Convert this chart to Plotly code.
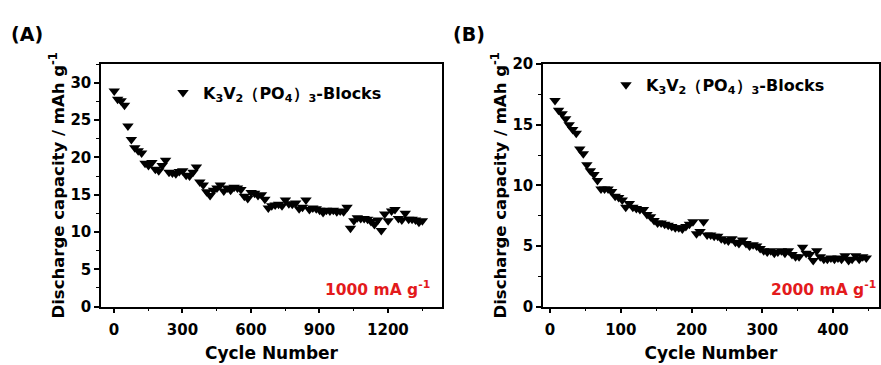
import plotly.graph_objects as go

# ---------------- data ----------------
cycles_a = [1, 16, 31, 46, 61, 76, 91, 106, 121, 136, 151, 166, 181, 196, 211, 226, 241, 256, 271, 286,
            301, 316, 331, 346, 361, 376, 391, 406, 421, 436, 451, 466, 481, 496, 511, 526, 541, 556, 571, 586,
            601, 616, 631, 646, 661, 676, 691, 706, 721, 736, 751, 766, 781, 796, 811, 826, 841, 856, 871, 886,
            901, 916, 931, 946, 961, 976, 991, 1006, 1021, 1036, 1051, 1066, 1081, 1096, 1111, 1126, 1141, 1156,
            1171, 1186, 1201, 1216, 1231, 1246, 1261, 1276, 1291, 1306, 1321, 1336, 1351]
cap_a = [28.9, 27.8, 27.6, 27.0, 24.2, 22.4, 21.3, 20.9, 20.6, 19.2, 18.9, 19.3, 18.4, 18.2, 18.9, 19.6, 18.0,
         17.9, 17.8, 18.1, 18.2, 17.6, 17.5, 18.0, 18.7, 16.7, 16.3, 15.4, 14.9, 15.6, 15.9, 16.3, 15.5, 15.9,
         15.6, 16.0, 15.9, 15.7, 14.8, 14.5, 15.3, 15.2, 14.9, 15.0, 14.4, 13.2, 13.5, 13.6, 13.7, 13.5, 14.3,
         13.8, 13.7, 13.9, 13.1, 13.3, 14.3, 13.0, 13.2, 13.1, 12.9, 12.6, 12.9, 12.8, 12.9, 12.7, 12.8, 12.7,
         13.3, 10.5, 11.5, 11.9, 11.8, 11.8, 11.7, 11.4, 11.0, 11.6, 10.2, 12.4, 11.5, 12.8, 13.0, 11.8, 11.6,
         12.5, 11.7, 11.7, 11.6, 11.3, 11.5]

cycles_b = [7, 12, 17, 22, 27, 32, 37, 42, 47, 52, 57, 62, 67, 72, 77, 82, 87, 92, 97, 102, 107, 112, 117,
            122, 127, 132, 137, 142, 147, 152, 157, 162, 167, 172, 177, 182, 187, 192, 197, 202, 207, 212, 217,
            222, 227, 232, 237, 242, 247, 252, 257, 262, 267, 272, 277, 282, 287, 292, 297, 302, 307, 312, 317,
            322, 327, 332, 337, 342, 347, 352, 357, 362, 367, 372, 377, 382, 387, 392, 397, 402, 407, 412, 417,
            422, 427, 432, 437, 442, 447]
cap_b = [17.0, 16.2, 15.9, 15.5, 15.0, 14.6, 14.3, 13.0, 12.6, 11.7, 11.2, 10.9, 10.4, 9.7, 9.7, 9.7, 9.5,
         9.1, 9.0, 8.8, 8.2, 8.5, 8.2, 8.1, 8.0, 8.0, 7.6, 7.4, 7.1, 6.9, 6.9, 6.8, 6.7, 6.6, 6.5, 6.5, 6.4,
         6.6, 6.8, 7.0, 6.0, 6.2, 7.0, 5.9, 5.9, 5.8, 5.8, 5.6, 5.5, 5.4, 5.6, 5.3, 5.2, 5.5, 5.2, 5.0, 5.1,
         5.0, 4.8, 4.6, 4.5, 4.6, 4.4, 4.5, 4.6, 4.4, 4.6, 4.3, 4.1, 4.1, 4.9, 4.4, 4.3, 3.8, 4.6, 4.1, 3.9,
         3.9, 4.0, 3.9, 4.0, 3.9, 4.2, 3.8, 3.9, 4.2, 3.9, 4.1, 4.0]

series_name = "K<sub>3</sub>V<sub>2</sub>（PO<sub>4</sub>）<sub>3</sub>-Blocks"
panel_labels = ["(A)", "(B)"]
rate_labels = ["1000 mA g<sup>-1</sup>", "2000 mA g<sup>-1</sup>"]
x_ticks_a = [0, 300, 600, 900, 1200]
x_ticks_b = [0, 100, 200, 300, 400]
y_ticks_a = [0, 5, 10, 15, 20, 25, 30]
y_ticks_b = [0, 5, 10, 15, 20]

# ---------------- figure ----------------
W, H = 881, 365
FONT = "DejaVu Sans, Liberation Sans, sans-serif"
RED = "#e31a1c"

fig = go.Figure()
fig.add_trace(go.Scatter(x=cycles_a, y=cap_a, mode="markers", name=series_name,
                         marker=dict(symbol="triangle-down", size=10, color="black"),
                         xaxis="x", yaxis="y", legend="legend"))
fig.add_trace(go.Scatter(x=cycles_b, y=cap_b, mode="markers", name=series_name,
                         marker=dict(symbol="triangle-down", size=10, color="black"),
                         xaxis="x2", yaxis="y2", legend="legend2"))

def px_x(p):
    return p / W

def px_y(p):
    return 1 - p / H

ydom = [px_y(313), px_y(58)]

axis_common = dict(showline=True, linecolor="black", linewidth=1.5, mirror=True,
                   ticks="outside", ticklen=5, tickwidth=1.5, tickcolor="black",
                   showgrid=False, zeroline=False,
                   tickfont=dict(family=FONT, size=15, color="black", weight="bold"))

xtitle_font = dict(family=FONT, size=17, weight="bold", color="black")
ytitle_font = dict(family=FONT, size=16.5, weight="bold", color="black")

fig.update_layout(
    width=W, height=H, margin=dict(l=0, r=0, t=0, b=0),
    paper_bgcolor="white", plot_bgcolor="white",
    font=dict(family=FONT, color="black"),
    xaxis=dict(domain=[px_x(101), px_x(442)], range=[-57, 1437], anchor="y",
               tickvals=x_ticks_a, ticklabelstandoff=4,
               minor=dict(ticks="outside", ticklen=3, tickwidth=1.2, dtick=150, tick0=0, tickcolor="black"),
               title=dict(text="Cycle Number", standoff=9, font=xtitle_font),
               **axis_common),
    yaxis=dict(domain=ydom, range=[0, 32.5], anchor="x", tickvals=y_ticks_a,
               minor=dict(ticks="outside", ticklen=3, tickwidth=1.2, dtick=2.5, tick0=0, tickcolor="black"),
               title=dict(text="Discharge capacity / mAh g<sup>-1</sup>", standoff=2, font=ytitle_font),
               **axis_common),
    xaxis2=dict(domain=[px_x(543), px_x(879)], range=[-10, 465], anchor="y2",
                tickvals=x_ticks_b, ticklabelstandoff=4,
                minor=dict(ticks="outside", ticklen=3, tickwidth=1.2, dtick=50, tick0=0, tickcolor="black"),
                title=dict(text="Cycle Number", standoff=9, font=xtitle_font),
                **axis_common),
    yaxis2=dict(domain=ydom, range=[0, 20], anchor="x2", tickvals=y_ticks_b,
                minor=dict(ticks="outside", ticklen=3, tickwidth=1.2, dtick=2.5, tick0=0, tickcolor="black"),
                title=dict(text="Discharge capacity / mAh g<sup>-1</sup>", standoff=2, font=ytitle_font),
                **axis_common),
    legend=dict(x=px_x(163), y=px_y(70), xanchor="left", yanchor="top",
                bgcolor="rgba(0,0,0,0)", borderwidth=0,
                font=dict(family=FONT, size=16, color="black", weight="bold")),
    legend2=dict(x=px_x(606), y=px_y(62), xanchor="left", yanchor="top",
                 bgcolor="rgba(0,0,0,0)", borderwidth=0,
                 font=dict(family=FONT, size=16, color="black", weight="bold")),
    showlegend=True,
)

annotations = [
    dict(text=panel_labels[0], x=px_x(9), y=px_y(26), xref="paper", yref="paper",
         xanchor="left", yanchor="middle", showarrow=False,
         font=dict(family=FONT, size=19, weight="bold", color="black")),
    dict(text=panel_labels[1], x=px_x(451), y=px_y(26), xref="paper", yref="paper",
         xanchor="left", yanchor="middle", showarrow=False,
         font=dict(family=FONT, size=19, weight="bold", color="black")),
    dict(text=rate_labels[0], x=px_x(432), y=px_y(294), xref="paper", yref="paper",
         xanchor="right", yanchor="middle", showarrow=False,
         font=dict(family=FONT, size=15.5, weight="bold", color=RED)),
    dict(text=rate_labels[1], x=px_x(878), y=px_y(294), xref="paper", yref="paper",
         xanchor="right", yanchor="middle", showarrow=False,
         font=dict(family=FONT, size=15.5, weight="bold", color=RED)),
]
fig.update_layout(annotations=annotations)

fig.write_html("out.html")
